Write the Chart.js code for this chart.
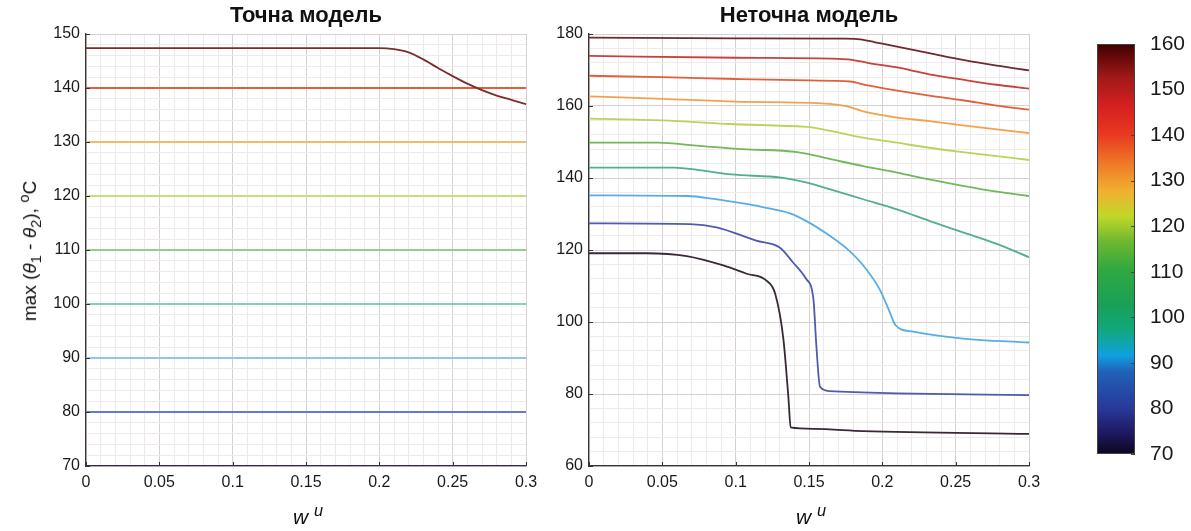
<!DOCTYPE html>
<html lang="uk">
<head>
<meta charset="utf-8">
<title>max (θ1 - θ2)</title>
<script src="https://cdn.jsdelivr.net/npm/chart.js@4.4.1/dist/chart.umd.min.js"></script>
<style>
  body { margin: 0; background: #fff; }
  #wrap { position: relative; width: 1191px; height: 531px; overflow: hidden;
          font-family: 'Liberation Sans', Arial, sans-serif; color: #111; }
  canvas { position: absolute; top: 0; }
  .lbl { position: absolute; white-space: nowrap; transform: translate(-50%, -50%); }
  .ylbl { left: 30px; top: 251px; font-size: 19px; transform: translate(-50%, -50%) rotate(-90deg); }
  .xlbl { top: 515px; font-size: 21px; }
  sub, sup { font-size: 78%; }
</style>
</head>
<body>
<div id="wrap">
  <canvas id="chartTochna" width="545" height="531" style="left:0"></canvas>
  <canvas id="chartNetochna" width="510" height="531" style="left:540px"></canvas>
  <canvas id="chartScale" width="106" height="531" style="left:1085px"></canvas>
  <div class="lbl ylbl">max (<i>θ</i><sub>1</sub> - <i>θ</i><sub>2</sub>), <sup>o</sup>C</div>
  <div class="lbl xlbl" style="left:308px"><i>w</i> <sup><i>u</i></sup></div>
  <div class="lbl xlbl" style="left:811px"><i>w</i> <sup><i>u</i></sup></div>
</div>
<script>
// ---- тикі ----
const xTicks = [0, 0.05, 0.1, 0.15, 0.2, 0.25, 0.3];
const yTicksTochna = [70, 80, 90, 100, 110, 120, 130, 140, 150];
const yTicksNetochna = [60, 80, 100, 120, 140, 160, 180];
const scaleTicks = [70, 80, 90, 100, 110, 120, 130, 140, 150, 160];

// ---- Точна модель ----
const wTochnaTop = [0, 0.2, 0.21, 0.22, 0.23, 0.24, 0.25, 0.26, 0.27, 0.28, 0.29, 0.3];
const tTochnaTop = [147.4, 147.4, 147.2, 146.6, 145.3, 143.7, 142.2, 140.8, 139.6, 138.6, 137.8, 137.0];
const wTochnaFlat = [0, 0.3];
const tochnaLevels = [140, 130, 120, 110, 100, 90, 80, 70];

// ---- Неточна модель ----
const wN1 = [0, 0.1, 0.175, 0.185, 0.195, 0.21, 0.232, 0.255, 0.278, 0.3];
const tN1 = [179.0, 178.8, 178.7, 178.5, 177.7, 176.5, 174.7, 172.8, 171.2, 169.9];
const wN2 = [0, 0.1, 0.17, 0.178, 0.19, 0.21, 0.232, 0.255, 0.278, 0.3];
const tN2 = [173.9, 173.4, 173.1, 172.9, 172.0, 170.7, 168.8, 167.3, 165.9, 164.8];
const wN3 = [0, 0.05, 0.1, 0.15, 0.178, 0.19, 0.21, 0.232, 0.255, 0.278, 0.3];
const tN3 = [168.4, 168.0, 167.5, 167.1, 166.8, 165.7, 164.3, 162.9, 161.6, 160.1, 159.0];
const wN4 = [0, 0.05, 0.1, 0.164, 0.176, 0.187, 0.21, 0.232, 0.255, 0.278, 0.3];
const tN4 = [162.7, 162.0, 161.2, 160.6, 159.9, 158.5, 156.8, 155.8, 154.6, 153.5, 152.5];
const wN5 = [0, 0.05, 0.096, 0.148, 0.153, 0.176, 0.187, 0.21, 0.232, 0.255, 0.278, 0.3];
const tN5 = [156.5, 156.0, 155.0, 154.2, 154.0, 152.1, 151.2, 149.8, 148.4, 147.2, 146.1, 145.0];
const wN6 = [0, 0.047, 0.073, 0.105, 0.142, 0.164, 0.187, 0.21, 0.232, 0.255, 0.278, 0.3];
const tN6 = [149.8, 149.8, 149.0, 148.0, 147.2, 145.3, 143.3, 141.5, 139.6, 137.8, 136.2, 135.0];
const wN7 = [0, 0.058, 0.075, 0.097, 0.131, 0.15, 0.164, 0.187, 0.21, 0.232, 0.255, 0.278, 0.3];
const tN7 = [142.9, 142.9, 142.2, 141.0, 140.1, 138.6, 136.9, 134.1, 131.3, 128.1, 124.9, 121.7, 118.0];
const wN8 = [0, 0.067, 0.085, 0.107, 0.12, 0.137, 0.148, 0.164, 0.176, 0.187, 0.198, 0.205, 0.209, 0.221, 0.255, 0.3];
const tN8 = [135.2, 135.0, 134.2, 132.8, 131.8, 130.2, 128.1, 124.0, 120.3, 115.7, 109.2, 102.8, 99.1, 97.3, 95.4, 94.3];
const wN9 = [0, 0.069, 0.087, 0.114, 0.130, 0.139, 0.148, 0.153, 0.155, 0.1575, 0.164, 0.21, 0.3];
const tN9 = [127.4, 127.2, 126.3, 122.6, 120.7, 116.6, 112.0, 106.4, 93.5, 82.0, 80.8, 80.2, 79.7];
const wN10 = [0, 0.039, 0.0666, 0.0916, 0.1075, 0.121, 0.127, 0.1325, 0.136, 0.1375, 0.153, 0.187, 0.3];
const tN10 = [119.1, 119.1, 118.3, 115.7, 113.4, 111.5, 107.8, 95.4, 78.8, 70.7, 70.3, 69.7, 68.9];

// кольори ліній
const tochnaTopColor = '#7d2b2b';
const tochnaColors = ['#e0603c', '#f5b86a', '#c5e07a', '#8fd08a', '#7fd0b5', '#8fc5f0', '#6877d0', '#3a2a4a'];
const netochnaColors = ['#6e2a2e', '#c8413a', '#e0603c', '#f2a24a', '#b8d45a', '#72b85a', '#4fb08e', '#56aee6', '#4f5bb0', '#3a2838'];
const jetStops = [
  [0.0, '#0c0620'], [0.05, '#1e1860'], [0.11, '#283898'], [0.2, '#2060b8'],
  [0.24, '#10a0e0'], [0.3, '#10a880'], [0.36, '#18a058'], [0.45, '#30a840'],
  [0.52, '#70b830'], [0.58, '#c0d828'], [0.64, '#f0b030'], [0.7, '#f08028'],
  [0.78, '#e83820'], [0.85, '#d42020'], [0.92, '#a01818'], [1.0, '#400000']
];

const fontTick = { family: "'Liberation Sans', Arial, sans-serif", size: 16 };
const gridMajor = '#d6d0d0';
const gridMinor = '#eeeaea';

function inList(list, v) {
  return list.some(m => Math.abs(m - v) < 1e-9);
}
function labelFrom(list) {
  return v => {
    const hit = list.find(m => Math.abs(m - v) < 1e-9);
    return hit === undefined ? '' : String(hit);
  };
}
function pts(ws, ts) {
  return ws.map((w, i) => ({ x: w, y: ts[i] }));
}
function line(data, color) {
  return { data, borderColor: color, borderWidth: 1.8, pointRadius: 0, fill: false, cubicInterpolationMode: 'monotone' };
}

// короткі риски всередину осей, як у matlab
const innerTicks = {
  id: 'innerTicks',
  afterDraw(chart, args, opts) {
    const { ctx, chartArea: a, scales: { x, y } } = chart;
    ctx.save();
    ctx.strokeStyle = '#333';
    ctx.lineWidth = 1;
    ctx.beginPath();
    xTicks.forEach(v => {
      const px = Math.round(x.getPixelForValue(v)) + 0.5;
      ctx.moveTo(px, a.bottom); ctx.lineTo(px, a.bottom - 4);
    });
    opts.yList.forEach(v => {
      const py = Math.round(y.getPixelForValue(v)) + 0.5;
      ctx.moveTo(a.left, py); ctx.lineTo(a.left + 4, py);
    });
    ctx.stroke();
    ctx.restore();
  }
};

function plotOptions(title, yMin, yMax, yStep, yList, yWidth, padRight) {
  return {
    responsive: false,
    animation: false,
    layout: { padding: { top: 0, right: padRight, bottom: 0, left: 0 } },
    plugins: {
      legend: { display: false },
      tooltip: { enabled: false },
      title: {
        display: true, text: title, fullSize: false, color: '#111',
        font: { family: "'Liberation Sans', Arial, sans-serif", size: 22, weight: 'bold' },
        padding: { top: 3, bottom: 4.6 }
      },
      innerTicks: { yList }
    },
    scales: {
      x: {
        type: 'linear', min: 0, max: 0.3,
        afterFit: s => { s.height = 65; },
        ticks: { stepSize: 0.01, autoSkip: false, maxRotation: 0, padding: 7, color: '#1a1a1a', font: fontTick, callback: labelFrom(xTicks) },
        grid: { drawTicks: false, color: c => inList(xTicks, c.tick.value) ? gridMajor : gridMinor },
        border: { color: '#3a3434', width: 1.3 }
      },
      y: {
        type: 'linear', min: yMin, max: yMax,
        afterFit: s => { s.width = yWidth; },
        ticks: { stepSize: yStep, autoSkip: false, padding: 6, color: '#1a1a1a', font: fontTick, callback: labelFrom(yList) },
        grid: { drawTicks: false, color: c => inList(yList, c.tick.value) ? gridMajor : gridMinor },
        border: { color: '#3a3434', width: 1.3 }
      }
    }
  };
}

// Точна модель
const tochnaSets = [line(pts(wTochnaTop, tTochnaTop), tochnaTopColor)];
tochnaLevels.forEach((lv, i) => {
  tochnaSets.push(line(wTochnaFlat.map(w => ({ x: w, y: lv })), tochnaColors[i]));
});
new Chart(document.getElementById('chartTochna'), {
  type: 'line',
  data: { datasets: tochnaSets },
  options: plotOptions('Точна модель', 70, 150, 2, yTicksTochna, 86, 19),
  plugins: [innerTicks]
});

// Неточна модель
const netochnaW = [wN1, wN2, wN3, wN4, wN5, wN6, wN7, wN8, wN9, wN10];
const netochnaT = [tN1, tN2, tN3, tN4, tN5, tN6, tN7, tN8, tN9, tN10];
new Chart(document.getElementById('chartNetochna'), {
  type: 'line',
  data: { datasets: netochnaW.map((ws, i) => line(pts(ws, netochnaT[i]), netochnaColors[i])) },
  options: plotOptions('Неточна модель', 60, 180, 4, yTicksNetochna, 49, 21),
  plugins: [innerTicks]
});

// шкала кольорів
const scaleFill = {
  id: 'scaleFill',
  beforeDraw(chart) {
    const { ctx, chartArea: a, scales: { y } } = chart;
    const g = ctx.createLinearGradient(0, a.bottom, 0, a.top);
    jetStops.forEach(([p, c]) => g.addColorStop(p, c));
    ctx.save();
    ctx.fillStyle = g;
    ctx.fillRect(a.left, a.top, a.right - a.left, a.bottom - a.top);
    ctx.strokeStyle = '#444';
    ctx.lineWidth = 1;
    ctx.strokeRect(a.left + 0.5, a.top + 0.5, a.right - a.left - 1, a.bottom - a.top - 1);
    ctx.beginPath();
    scaleTicks.forEach(v => {
      const py = Math.round(y.getPixelForValue(v)) + 0.5;
      ctx.moveTo(a.right, py); ctx.lineTo(a.right - 4, py);
    });
    ctx.stroke();
    ctx.restore();
  }
};
new Chart(document.getElementById('chartScale'), {
  type: 'line',
  data: { datasets: [] },
  options: {
    responsive: false,
    animation: false,
    layout: { padding: { top: 44, right: 0, bottom: 77, left: 12 } },
    plugins: { legend: { display: false }, tooltip: { enabled: false } },
    scales: {
      x: { type: 'linear', min: 0, max: 1, display: false },
      y: {
        type: 'linear', position: 'right', min: 70, max: 160,
        afterFit: s => { s.width = 56; },
        ticks: { stepSize: 10, padding: 7, color: '#1a1a1a', font: { family: "'Liberation Sans', Arial, sans-serif", size: 21 } },
        grid: { display: false },
        border: { display: false }
      }
    }
  },
  plugins: [scaleFill]
});
</script>
</body>
</html>
